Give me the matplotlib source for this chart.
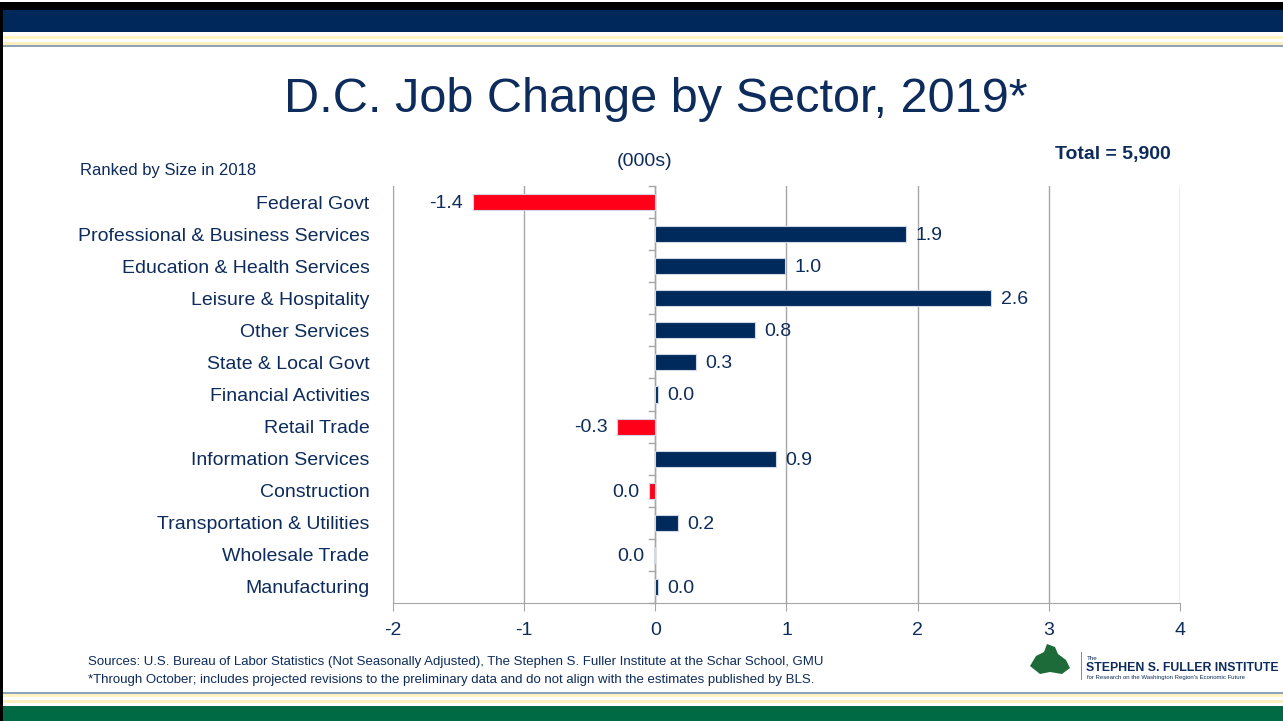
import matplotlib
matplotlib.use("Agg")
import matplotlib.pyplot as plt
from matplotlib import font_manager
from matplotlib.patches import Rectangle, Polygon

# ---------------- data ----------------
categories = ["Federal Govt", "Professional & Business Services", "Education & Health Services",
              "Leisure & Hospitality", "Other Services", "State & Local Govt", "Financial Activities",
              "Retail Trade", "Information Services", "Construction", "Transportation & Utilities",
              "Wholesale Trade", "Manufacturing"]
values = [-1.39, 1.91, 0.99, 2.56, 0.76, 0.31, 0.02, -0.29, 0.92, -0.05, 0.17, -0.01, 0.02]
value_labels = ["-1.4", "1.9", "1.0", "2.6", "0.8", "0.3", "0.0", "-0.3", "0.9", "0.0", "0.2", "0.0", "0.0"]
x_ticks = [-2, -1, 0, 1, 2, 3, 4]

NAVY = "#002A5C"
RED = "#FF0018"
TXT = "#0D2B5B"
GRID = "#A6A6A6"

names = {f.name for f in font_manager.fontManager.ttflist}
NARROW = "Liberation Sans Narrow" if "Liberation Sans Narrow" in names else "Liberation Sans"
REG = "Liberation Sans" if "Liberation Sans" in names else "DejaVu Sans"
SZ = 15 if NARROW == "Liberation Sans Narrow" else 14

W, H = 1283, 721
fig = plt.figure(figsize=(W / 100, H / 100), dpi=100)

# ---------------- slide decoration ----------------
def frect(x0, y0, w, h, color, z=0):
    fig.patches.append(Rectangle((x0 / W, 1 - (y0 + h) / H), w / W, h / H,
                                 transform=fig.transFigure, facecolor=color,
                                 edgecolor="none", zorder=z))

frect(0, 2, W, 8, "#000000")
frect(3, 10, W, 22, "#00285A")
frect(3, 32, W, 4, "#FFFFFF")
frect(3, 36, W, 3, "#FFF4C2")
frect(3, 39, W, 3, "#FFFFFF")
frect(3, 42, W, 3, "#FBEFC0")
frect(3, 45, W, 2, "#8EA2BC")
frect(0, 2, 3, H - 2, "#000000")
frect(3, 692, W, 2, "#8EA2BC")
frect(3, 694, W, 3, "#FFF4C2")
frect(3, 697, W, 3, "#FFFFFF")
frect(3, 700, W, 3, "#FBEFC0")
frect(3, 703, W, 3, "#FFFFFF")
frect(3, 706, W, H - 706, "#006A45")

# ---------------- chart ----------------
ax = fig.add_axes([393 / W, 1 - 603 / H, 787 / W, 417 / H])
for sp in ["top", "right"]:
    ax.spines[sp].set_visible(False)
ax.spines["left"].set_color(GRID)
ax.spines["bottom"].set_color(GRID)

y = list(range(len(categories)))
colors = [NAVY if v >= 0 else RED for v in values]
ax.barh(y, values, height=0.5, color=colors, edgecolor="#D0D8E8", linewidth=0.8, zorder=3)
ax.set_xlim(x_ticks[0], x_ticks[-1])
ax.set_ylim(len(categories) - 0.5, -0.5)
ax.set_xticks(x_ticks)
ax.set_xticklabels([str(t) for t in x_ticks], fontsize=SZ, family=NARROW, color=TXT)
ax.set_yticks(y)
ax.set_yticklabels(categories, fontsize=SZ, family=NARROW, color=TXT)
ax.tick_params(axis="y", length=0, pad=17)
ax.tick_params(axis="x", length=6, color=GRID, pad=8)
ax.grid(axis="x", color=GRID, linewidth=1, zorder=0)
ax.axvline(0, color=GRID, linewidth=1, zorder=1)
for b in range(len(categories) + 1):
    ax.plot([-0.05, 0], [b - 0.5, b - 0.5], color=GRID, linewidth=1, zorder=1, clip_on=False)

for yi, v, lab in zip(y, values, value_labels):
    if v >= 0:
        ax.annotate(lab, (v, yi), xytext=(7, -1), textcoords="offset points",
                    ha="left", va="center", fontsize=SZ, family=NARROW, color=TXT, zorder=4)
    else:
        ax.annotate(lab, (v, yi), xytext=(-7, -1), textcoords="offset points",
                    ha="right", va="center", fontsize=SZ, family=NARROW, color=TXT, zorder=4)

# ---------------- texts ----------------
fig.text(656 / W, 1 - 99 / H, "D.C. Job Change by Sector, 2019*", ha="center", va="center",
         fontsize=35, family=REG, color=TXT)
fig.text(80 / W, 1 - 171 / H, "Ranked by Size in 2018", ha="left", va="center",
         fontsize=12, family=NARROW, color=TXT)
fig.text(645 / W, 1 - 162 / H, "(000s)", ha="center", va="center",
         fontsize=14, family=NARROW, color=TXT)
fig.text(1113 / W, 1 - 155 / H, "Total = 5,900", ha="center", va="center",
         fontsize=14, family=NARROW, color=TXT, weight="bold")
fig.text(88 / W, 1 - 662 / H, "Sources: U.S. Bureau of Labor Statistics (Not Seasonally Adjusted), The Stephen S. Fuller Institute at the Schar School, GMU",
         ha="left", va="center", fontsize=9.5, family=NARROW, color=TXT)
fig.text(88 / W, 1 - 680 / H, "*Through October; includes projected revisions to the preliminary data and do not align with the estimates published by BLS.",
         ha="left", va="center", fontsize=9.5, family=NARROW, color=TXT)

# ---------------- logo ----------------
logo_pts = [(1030, 666), (1036, 656), (1044, 652), (1047, 644), (1055, 647), (1058, 654),
            (1066, 660), (1070, 668), (1062, 674), (1050, 672), (1040, 674)]
fig.patches.append(Polygon([(px / W, 1 - py / H) for px, py in logo_pts], closed=True,
                           transform=fig.transFigure, facecolor="#1E6B3A", edgecolor="none"))
fig.patches.append(Rectangle((1081 / W, 1 - 680 / H), 1 / W, 28 / H, transform=fig.transFigure,
                             facecolor="#8A8A8A", edgecolor="none"))
fig.text(1087 / W, 1 - 658 / H, "The", ha="left", va="center", fontsize=4.5, family=NARROW, color=TXT)
fig.text(1086 / W, 1 - 668 / H, "STEPHEN S. FULLER INSTITUTE", ha="left", va="center",
         fontsize=8.8, family=NARROW, color=TXT, weight="bold")
fig.text(1087 / W, 1 - 678 / H, "for Research on the Washington Region's Economic Future",
         ha="left", va="center", fontsize=4.3, family=NARROW, color=TXT)

fig.savefig("out.png", dpi=100)
